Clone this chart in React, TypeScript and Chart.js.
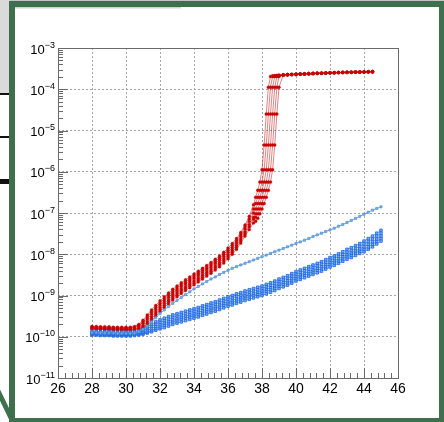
import React, { useEffect, useRef } from "react";
import { Chart, registerables } from "chart.js";
Chart.register(...registerables);

// ---------- axis ticks ----------
const xTickValues = [26, 28, 30, 32, 34, 36, 38, 40, 42, 44, 46];
const yTickExponents = [-11, -10, -9, -8, -7, -6, -5, -4, -3];

// ---------- red curves (log10 of current) ----------
const redX = [
  28, 28.25, 28.5, 28.75, 29, 29.25, 29.5, 29.75, 30, 30.25, 30.5, 30.75,
  31, 31.25, 31.5, 31.75, 32, 32.25, 32.5, 32.75, 33, 33.25, 33.5, 33.75,
  34, 34.25, 34.5, 34.75, 35, 35.25, 35.5, 35.75, 36, 36.25, 36.5, 36.75,
  37, 37.25, 37.5, 37.625, 37.75, 37.875, 38, 38.125, 38.25, 38.375, 38.5,
  38.625, 38.75, 38.875, 39,
];
const redTailX = [
  39.25, 39.5, 39.75, 40, 40.25, 40.5, 40.75, 41, 41.25, 41.5, 41.75, 42,
  42.25, 42.5, 42.75, 43, 43.25, 43.5, 43.75, 44, 44.25, 44.5,
];
const redTailLog = [
  -3.655, -3.648, -3.643, -3.638, -3.632, -3.628, -3.622, -3.618, -3.614, -3.61, -3.606, -3.602,
  -3.599, -3.596, -3.592, -3.59, -3.587, -3.584, -3.582, -3.579, -3.577, -3.575,
];
const red1Log = [
  -9.75, -9.75, -9.76, -9.76, -9.76, -9.77, -9.77, -9.77, -9.77, -9.77, -9.75, -9.7,
  -9.6, -9.47, -9.35, -9.24, -9.13, -9.03, -8.94, -8.85, -8.77, -8.69, -8.62, -8.55,
  -8.48, -8.41, -8.34, -8.27, -8.2, -8.12, -8.04, -7.95, -7.85, -7.74, -7.62, -7.47,
  -7.29, -7.08, -6.8, -6.62, -6.45, -6.25, -5.95, -5.35, -4.6, -3.95, -3.69, -3.675,
  -3.67, -3.665, -3.66,
];
const red2Log = [
  -9.76, -9.77, -9.77, -9.78, -9.78, -9.78, -9.79, -9.79, -9.79, -9.78, -9.77, -9.72,
  -9.64, -9.52, -9.4, -9.29, -9.18, -9.08, -8.99, -8.9, -8.82, -8.74, -8.67, -8.6,
  -8.53, -8.46, -8.39, -8.32, -8.25, -8.17, -8.09, -8.0, -7.9, -7.79, -7.67, -7.52,
  -7.34, -7.14, -6.9, -6.77, -6.62, -6.45, -6.25, -5.95, -5.35, -4.6, -3.95, -3.69,
  -3.675, -3.668, -3.662,
];
const red3Log = [
  -9.78, -9.78, -9.79, -9.79, -9.79, -9.8, -9.8, -9.8, -9.8, -9.8, -9.78, -9.74,
  -9.67, -9.57, -9.45, -9.34, -9.23, -9.13, -9.04, -8.95, -8.87, -8.79, -8.72, -8.65,
  -8.58, -8.51, -8.44, -8.37, -8.3, -8.22, -8.14, -8.05, -7.95, -7.84, -7.72, -7.57,
  -7.39, -7.2, -7.0, -6.9, -6.77, -6.62, -6.45, -6.25, -5.95, -5.35, -4.6, -3.95,
  -3.69, -3.675, -3.665,
];
const red4Log = [
  -9.79, -9.8, -9.8, -9.81, -9.81, -9.81, -9.82, -9.82, -9.82, -9.82, -9.81, -9.78,
  -9.73, -9.63, -9.51, -9.4, -9.29, -9.19, -9.1, -9.01, -8.93, -8.85, -8.78, -8.71,
  -8.64, -8.57, -8.5, -8.43, -8.36, -8.28, -8.2, -8.11, -8.01, -7.9, -7.78, -7.63,
  -7.46, -7.28, -7.1, -7.02, -6.9, -6.77, -6.62, -6.45, -6.25, -5.95, -5.35, -4.6,
  -3.95, -3.69, -3.672,
];
const red5Log = [
  -9.8, -9.81, -9.81, -9.82, -9.82, -9.82, -9.83, -9.83, -9.83, -9.83, -9.82, -9.8,
  -9.76, -9.68, -9.56, -9.45, -9.34, -9.24, -9.15, -9.06, -8.98, -8.9, -8.83, -8.76,
  -8.69, -8.62, -8.55, -8.48, -8.41, -8.33, -8.25, -8.16, -8.06, -7.95, -7.83, -7.68,
  -7.51, -7.33, -7.15, -7.1, -7.02, -6.9, -6.77, -6.62, -6.45, -6.25, -5.95, -5.35,
  -4.6, -3.95, -3.69,
];
const red6Log = [
  -9.81, -9.82, -9.82, -9.83, -9.83, -9.84, -9.84, -9.84, -9.84, -9.84, -9.84, -9.82,
  -9.79, -9.72, -9.61, -9.5, -9.39, -9.29, -9.2, -9.11, -9.03, -8.95, -8.88, -8.81,
  -8.74, -8.67, -8.6, -8.53, -8.46, -8.38, -8.3, -8.21, -8.11, -8.0, -7.88, -7.73,
  -7.56, -7.4, -7.24, -7.2, -7.13, -7.02, -6.9, -6.77, -6.62, -6.45, -6.25, -5.95,
  -5.35, -4.6, -3.95,
];

// ---------- blue curves (log10 of current) ----------
const blueX = [
  28, 28.25, 28.5, 28.75, 29, 29.25, 29.5, 29.75, 30, 30.25, 30.5, 30.75,
  31, 31.25, 31.5, 31.75, 32, 32.25, 32.5, 32.75, 33, 33.25, 33.5, 33.75,
  34, 34.25, 34.5, 34.75, 35, 35.25, 35.5, 35.75, 36, 36.25, 36.5, 36.75,
  37, 37.25, 37.5, 37.75, 38, 38.25, 38.5, 38.75, 39, 39.25, 39.5, 39.75,
  40, 40.25, 40.5, 40.75, 41, 41.25, 41.5, 41.75, 42, 42.25, 42.5, 42.75,
  43, 43.25, 43.5, 43.75, 44, 44.25, 44.5, 44.75, 45,
];
const blue1Log = [
  -9.87, -9.87, -9.88, -9.88, -9.88, -9.89, -9.89, -9.89, -9.89, -9.89, -9.88, -9.86,
  -9.82, -9.76, -9.7, -9.64, -9.59, -9.55, -9.51, -9.47, -9.44, -9.41, -9.38, -9.35,
  -9.32, -9.29, -9.25, -9.22, -9.18, -9.15, -9.11, -9.07, -9.03, -9.0, -8.96, -8.93,
  -8.89, -8.86, -8.83, -8.8, -8.77, -8.73, -8.69, -8.65, -8.6, -8.56, -8.52, -8.47,
  -8.42, -8.38, -8.34, -8.3, -8.26, -8.22, -8.18, -8.13, -8.08, -8.04, -7.99, -7.94,
  -7.88, -7.84, -7.79, -7.74, -7.68, -7.62, -7.56, -7.49, -7.42,
];
const blue2Log = [
  -9.9, -9.9, -9.91, -9.91, -9.91, -9.92, -9.92, -9.92, -9.92, -9.92, -9.91, -9.89,
  -9.85, -9.8, -9.75, -9.69, -9.65, -9.61, -9.57, -9.53, -9.5, -9.47, -9.44, -9.41,
  -9.38, -9.35, -9.31, -9.28, -9.24, -9.21, -9.17, -9.13, -9.09, -9.06, -9.02, -8.99,
  -8.95, -8.92, -8.89, -8.86, -8.83, -8.79, -8.75, -8.71, -8.66, -8.62, -8.58, -8.53,
  -8.48, -8.44, -8.4, -8.36, -8.32, -8.28, -8.24, -8.19, -8.14, -8.1, -8.05, -8.0,
  -7.95, -7.91, -7.86, -7.81, -7.75, -7.69, -7.63, -7.56, -7.49,
];
const blue3Log = [
  -9.92, -9.92, -9.93, -9.93, -9.93, -9.94, -9.94, -9.94, -9.94, -9.94, -9.93, -9.92,
  -9.89, -9.85, -9.8, -9.75, -9.71, -9.67, -9.63, -9.59, -9.56, -9.53, -9.5, -9.47,
  -9.44, -9.41, -9.37, -9.34, -9.3, -9.27, -9.23, -9.19, -9.15, -9.12, -9.08, -9.05,
  -9.01, -8.98, -8.95, -8.92, -8.89, -8.85, -8.81, -8.77, -8.72, -8.68, -8.64, -8.59,
  -8.54, -8.5, -8.46, -8.42, -8.38, -8.34, -8.3, -8.25, -8.2, -8.16, -8.11, -8.06,
  -8.01, -7.97, -7.92, -7.87, -7.82, -7.76, -7.7, -7.63, -7.56,
];
const blue4Log = [
  -9.94, -9.94, -9.95, -9.95, -9.95, -9.96, -9.96, -9.96, -9.96, -9.96, -9.95, -9.94,
  -9.92, -9.89, -9.85, -9.8, -9.76, -9.72, -9.68, -9.64, -9.61, -9.58, -9.55, -9.52,
  -9.49, -9.46, -9.42, -9.39, -9.35, -9.32, -9.28, -9.24, -9.2, -9.17, -9.13, -9.1,
  -9.06, -9.03, -9.0, -8.97, -8.94, -8.9, -8.86, -8.82, -8.77, -8.73, -8.69, -8.64,
  -8.59, -8.55, -8.51, -8.47, -8.43, -8.39, -8.35, -8.3, -8.25, -8.21, -8.16, -8.11,
  -8.06, -8.02, -7.97, -7.92, -7.88, -7.82, -7.76, -7.69, -7.62,
];
const blue5Log = [
  -9.96, -9.96, -9.97, -9.97, -9.97, -9.98, -9.98, -9.98, -9.98, -9.98, -9.97, -9.96,
  -9.94, -9.91, -9.88, -9.84, -9.81, -9.78, -9.74, -9.7, -9.67, -9.64, -9.61, -9.58,
  -9.55, -9.52, -9.48, -9.45, -9.41, -9.38, -9.34, -9.3, -9.26, -9.23, -9.19, -9.16,
  -9.12, -9.09, -9.06, -9.03, -9.0, -8.96, -8.92, -8.88, -8.83, -8.79, -8.75, -8.7,
  -8.65, -8.61, -8.57, -8.53, -8.49, -8.45, -8.41, -8.36, -8.31, -8.27, -8.22, -8.17,
  -8.12, -8.08, -8.03, -7.98, -7.94, -7.88, -7.82, -7.75, -7.68,
];
const lightBlueLog = [
  -9.9, -9.9, -9.91, -9.91, -9.91, -9.91, -9.92, -9.92, -9.92, -9.92, -9.91, -9.88,
  -9.82, -9.74, -9.64, -9.54, -9.44, -9.35, -9.27, -9.19, -9.12, -9.05, -8.98, -8.91,
  -8.84, -8.78, -8.72, -8.66, -8.6, -8.55, -8.49, -8.44, -8.39, -8.34, -8.3, -8.26,
  -8.22, -8.18, -8.14, -8.1, -8.06, -8.02, -7.98, -7.94, -7.9, -7.86, -7.82, -7.78,
  -7.74, -7.7, -7.66, -7.62, -7.57, -7.53, -7.49, -7.45, -7.41, -7.37, -7.32, -7.28,
  -7.23, -7.18, -7.13, -7.08, -7.03, -6.98, -6.93, -6.89, -6.85,
];

const redSeries = [red1Log, red2Log, red3Log, red4Log, red5Log, red6Log];
const blueSeries = [blue1Log, blue2Log, blue3Log, blue4Log, blue5Log];

const FONT = '"Liberation Sans", Arial, Helvetica, sans-serif';
const GREEN = "#3e704d";

const toPoints = (xs: number[], logs: number[]) =>
  xs.map((x, i) => ({ x, y: Math.pow(10, logs[i]) }));

const rootAxesPlugin = {
  id: "rootAxes",
  afterDraw(chart: any) {
    const { ctx, chartArea: a } = chart;
    const xs = chart.scales.x;
    const ys = chart.scales.y;
    ctx.save();
    ctx.strokeStyle = "#6a6a6a";
    ctx.lineWidth = 1;
    ctx.beginPath();
    for (let i = 0; i < xTickValues.length; i++) {
      const v = xTickValues[i];
      const px = Math.round(xs.getPixelForValue(v)) + 0.5;
      ctx.moveTo(px, a.bottom);
      ctx.lineTo(px, a.bottom - 10);
      if (i < xTickValues.length - 1) {
        const step = (xTickValues[i + 1] - v) / 5;
        for (let k = 1; k < 5; k++) {
          const mx = Math.round(xs.getPixelForValue(v + k * step)) + 0.5;
          ctx.moveTo(mx, a.bottom);
          ctx.lineTo(mx, a.bottom - 5);
        }
      }
    }
    for (const e of yTickExponents) {
      const py = Math.round(ys.getPixelForValue(Math.pow(10, e))) + 0.5;
      ctx.moveTo(a.left, py);
      ctx.lineTo(a.left + 10, py);
      if (e < -3) {
        for (let m = 2; m <= 9; m++) {
          const my = Math.round(ys.getPixelForValue(m * Math.pow(10, e))) + 0.5;
          ctx.moveTo(a.left, my);
          ctx.lineTo(a.left + 5, my);
        }
      }
    }
    ctx.stroke();
    ctx.strokeRect(
      Math.round(a.left) + 0.5,
      Math.round(a.top) + 0.5,
      Math.round(a.right - a.left),
      Math.round(a.bottom - a.top)
    );
    ctx.fillStyle = "#000";
    ctx.textBaseline = "alphabetic";
    ctx.font = `14px ${FONT}`;
    ctx.textAlign = "center";
    for (const v of xTickValues) {
      ctx.fillText(String(v), xs.getPixelForValue(v), a.bottom + 15);
    }
    ctx.textAlign = "left";
    for (const e of yTickExponents) {
      const py = ys.getPixelForValue(Math.pow(10, e));
      const base = "10";
      const sup = "\u2212" + Math.abs(e);
      ctx.font = `13px ${FONT}`;
      const bw = ctx.measureText(base).width;
      ctx.font = `9px ${FONT}`;
      const sw = ctx.measureText(sup).width;
      const right = a.left - 3;
      ctx.font = `13px ${FONT}`;
      ctx.fillText(base, right - sw - bw, py + 5.5);
      ctx.font = `9px ${FONT}`;
      ctx.fillText(sup, right - sw, py - 0.5);
    }
    ctx.restore();
  },
};

export default function App() {
  const canvasRef = useRef<HTMLCanvasElement | null>(null);

  useEffect(() => {
    if (!canvasRef.current) return;
    const datasets: any[] = [];
    redSeries.forEach((logs) => {
      datasets.push({
        data: toPoints(redX.concat(redTailX), logs.concat(redTailLog)),
        borderColor: "rgba(200,30,30,0.8)",
        borderWidth: 0.7,
        pointStyle: "circle",
        pointRadius: 1.5,
        pointBackgroundColor: "rgb(205,0,0)",
        pointBorderColor: "rgb(195,0,0)",
        pointBorderWidth: 0.3,
        order: 2,
      });
    });
    blueSeries.forEach((logs) => {
      datasets.push({
        data: toPoints(blueX, logs),
        borderColor: "rgba(30,105,225,0.9)",
        borderWidth: 0.7,
        pointStyle: "rect",
        pointRadius: 1.8,
        pointBackgroundColor: "rgba(110,165,240,0.8)",
        pointBorderColor: "rgb(25,100,225)",
        pointBorderWidth: 0.8,
        order: 1,
      });
    });
    datasets.push({
      data: toPoints(blueX, lightBlueLog),
      borderColor: "rgb(80,145,215)",
      borderWidth: 0.8,
      pointStyle: "rect",
      pointRadius: 1.5,
      pointBackgroundColor: "rgba(130,180,235,0.9)",
      pointBorderColor: "rgb(75,140,215)",
      pointBorderWidth: 0.7,
      order: 0,
    });

    const chart = new Chart(canvasRef.current, {
      type: "line",
      data: { datasets },
      options: {
        responsive: false,
        animation: false,
        events: [],
        layout: { padding: { left: 0, top: 48, right: 46, bottom: 0 } },
        plugins: { legend: { display: false }, tooltip: { enabled: false } },
        scales: {
          x: {
            type: "linear",
            min: 26,
            max: 46,
            afterBuildTicks: (s: any) => {
              s.ticks = xTickValues.map((v) => ({ value: v }));
            },
            afterFit: (s: any) => {
              s.height = 44;
            },
            ticks: { display: false },
            grid: { color: "#a6a6a6", lineWidth: 1, drawTicks: false },
            border: { display: false, dash: [2, 2] },
          },
          y: {
            type: "logarithmic",
            min: 1e-11,
            max: 1e-3,
            afterBuildTicks: (s: any) => {
              s.ticks = yTickExponents.map((e) => ({ value: Math.pow(10, e) }));
            },
            afterFit: (s: any) => {
              s.width = 58;
            },
            ticks: { display: false },
            grid: { color: "#a6a6a6", lineWidth: 1, drawTicks: false },
            border: { display: false, dash: [2, 2] },
          },
        },
      } as any,
      plugins: [rootAxesPlugin],
    });
    return () => chart.destroy();
  }, []);

  return (
    <div
      style={{
        position: "fixed",
        left: 0,
        top: 0,
        width: 444,
        height: 422,
        background: "#fff",
        overflow: "hidden",
      }}
    >
      <canvas
        ref={canvasRef}
        width={444}
        height={422}
        style={{ position: "absolute", left: 0, top: 0, width: 444, height: 422 }}
      />
      <svg
        width={444}
        height={422}
        style={{ position: "absolute", left: 0, top: 0, pointerEvents: "none" }}
      >
        <rect x={0} y={0} width={444} height={1.5} fill="#c4c4c4" />
        <rect x={0} y={0} width={10} height={93} fill="#dadada" />
        <rect x={15} y={7} width={166} height={1.5} fill="#d2d2d2" />
        <rect x={0} y={93} width={10} height={2} fill="#111" />
        <rect x={0} y={136} width={10} height={2} fill="#111" />
        <rect x={0} y={179} width={10} height={5} fill="#111" />
        <line x1={-2} y1={391} x2={14} y2={424} stroke={GREEN} strokeWidth={5} />
        <rect x={9} y={1} width={435} height={6} fill={GREEN} />
        <rect x={9} y={1} width={6} height={421} fill={GREEN} />
        <rect x={439} y={1} width={5} height={421} fill={GREEN} />
        <rect x={9} y={418} width={435} height={4} fill={GREEN} />
      </svg>
    </div>
  );
}
